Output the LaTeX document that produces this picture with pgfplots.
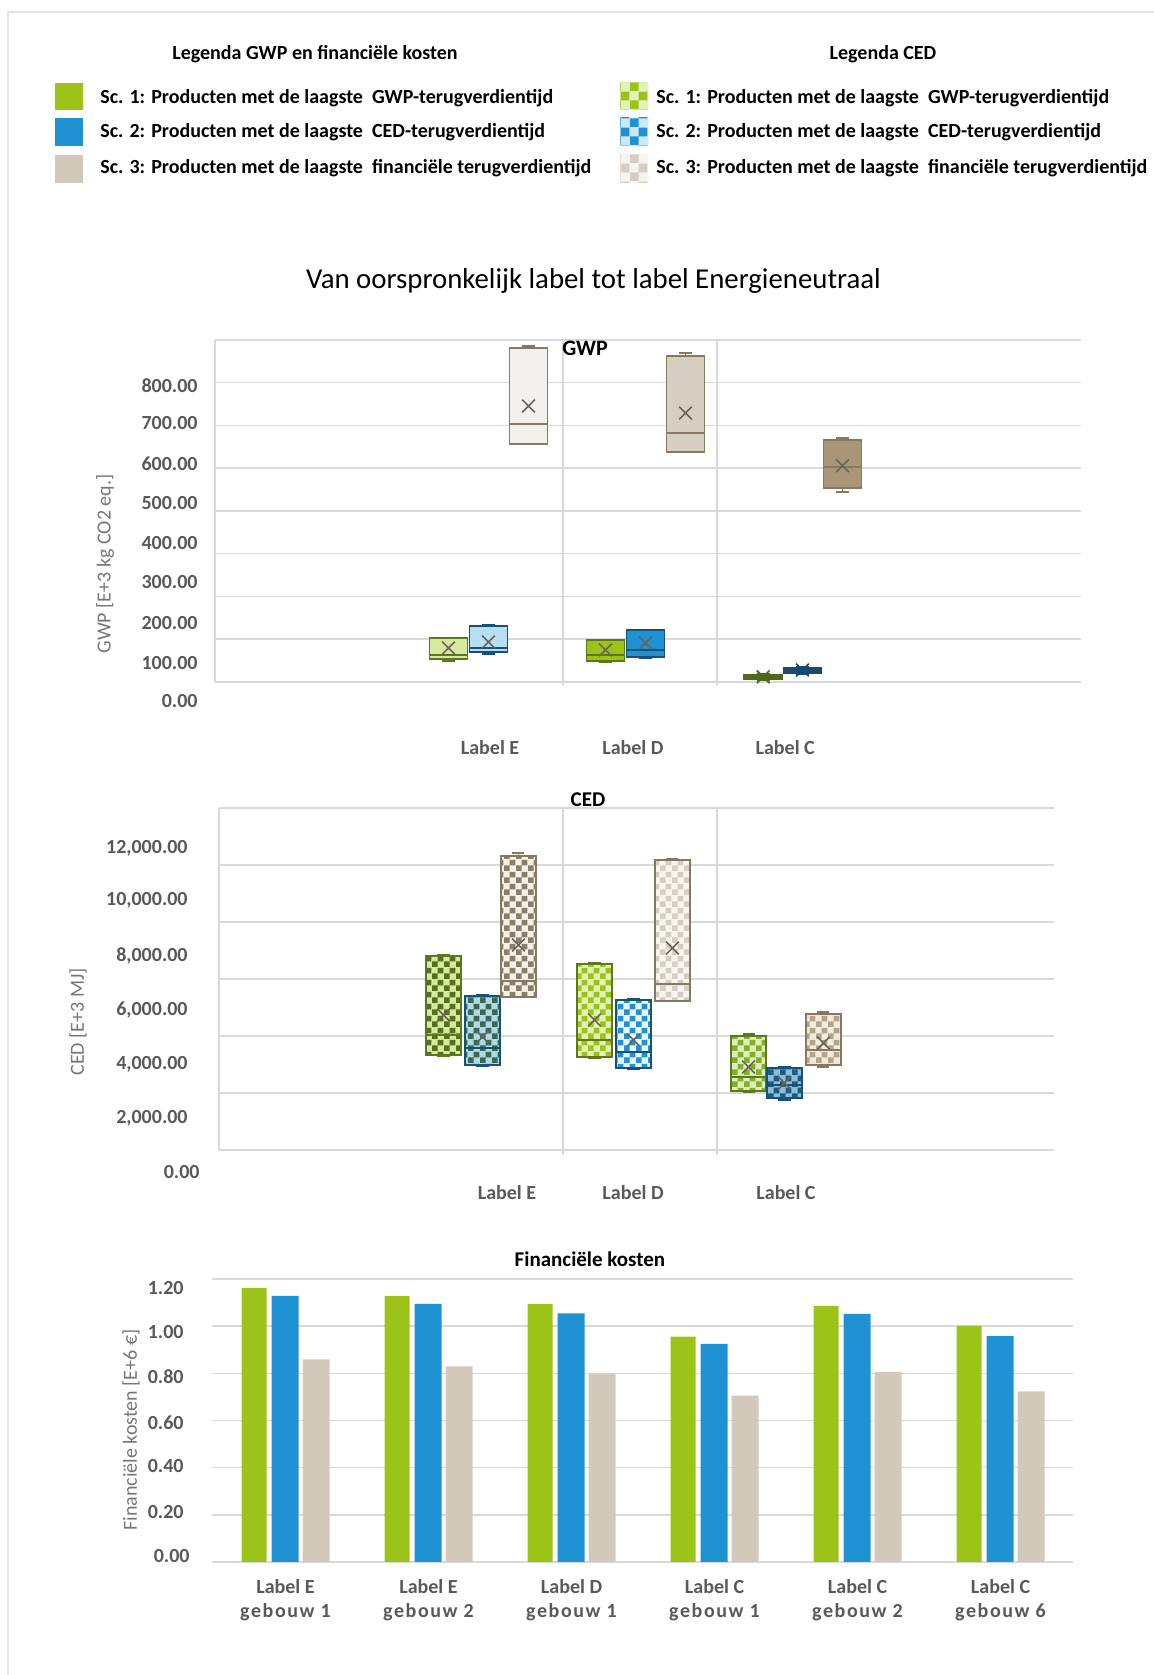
\documentclass[border=0pt]{standalone}
\usepackage{pgfplots}
\pgfplotsset{compat=1.18}
\usetikzlibrary{patterns}
\usepackage{fontspec}
\setmainfont{Carlito}
\newfontfamily\spaced[LetterSpace=8]{Carlito}

% palette
\definecolor{cGreen}{RGB}{156,195,24}
\definecolor{cBlue}{RGB}{30,146,210}
\definecolor{cBeige}{RGB}{210,201,186}
\definecolor{gridc}{RGB}{217,217,217}
\definecolor{framec}{RGB}{228,228,228}
\definecolor{tickc}{RGB}{89,89,89}
\definecolor{labc}{RGB}{118,118,118}
\definecolor{edGreen}{RGB}{92,120,28}
\definecolor{edBlue}{RGB}{20,82,120}
\definecolor{edBrown}{RGB}{135,120,95}
\definecolor{meanc}{RGB}{105,100,90}
\definecolor{gLight}{RGB}{215,232,160}
\definecolor{bLight}{RGB}{183,222,242}
\definecolor{wLight}{RGB}{243,241,237}
\definecolor{tBeige}{RGB}{214,206,192}
\definecolor{gDark}{RGB}{78,105,25}
\definecolor{bDark}{RGB}{25,75,110}
\definecolor{tDark}{RGB}{168,150,118}
% checker colours
\definecolor{kOlive}{RGB}{85,112,28}
\definecolor{kTeal}{RGB}{62,104,72}
\definecolor{kBrown}{RGB}{140,125,100}
\definecolor{kGreenC}{RGB}{130,175,40}
\definecolor{kBlueC}{RGB}{30,90,130}
\definecolor{kTaupe}{RGB}{180,165,135}
\definecolor{bgBlueE}{RGB}{172,216,240}
\definecolor{bgGreenD}{RGB}{226,240,188}
\definecolor{bgBlueD}{RGB}{236,246,252}
\definecolor{bgWhiteD}{RGB}{248,246,242}
\definecolor{bgGreenC}{RGB}{222,236,192}
\definecolor{bgBlueC}{RGB}{140,190,220}
\definecolor{bgTaupeC}{RGB}{240,236,228}
\definecolor{lgGreen}{RGB}{228,240,190}
\definecolor{lgBlue}{RGB}{205,232,248}
\definecolor{lgBeige}{RGB}{246,244,240}

% checkerboards
\pgfdeclarepatternformonly{chk}{\pgfpointorigin}{\pgfpoint{6pt}{6pt}}{\pgfpoint{6pt}{6pt}}{%
  \pgfpathrectangle{\pgfpointorigin}{\pgfpoint{3pt}{3pt}}%
  \pgfpathrectangle{\pgfpoint{3pt}{3pt}}{\pgfpoint{3pt}{3pt}}%
  \pgfusepath{fill}}
\pgfdeclarepatternformonly{chkbig}{\pgfpointorigin}{\pgfpoint{9pt}{9pt}}{\pgfpoint{9pt}{9pt}}{%
  \pgfpathrectangle{\pgfpointorigin}{\pgfpoint{4.5pt}{4.5pt}}%
  \pgfpathrectangle{\pgfpoint{4.5pt}{4.5pt}}{\pgfpoint{4.5pt}{4.5pt}}%
  \pgfusepath{fill}}

\newcommand\tickfont{\bfseries\fontsize{10}{12}\selectfont}
\newcommand\labfont{\fontsize{10}{12}\selectfont}

% one box-and-whisker: position, lower whisker, lower quartile, median,
% upper quartile, upper whisker, edge colour, fill options (half width in \bw)
\newcommand\bw{0.12}
\newcommand\bxp[8]{%
  \pgfmathsetmacro\xa{#1-\bw}\pgfmathsetmacro\xb{#1+\bw}%
  \pgfmathsetmacro\ca{#1-0.04}\pgfmathsetmacro\cb{#1+0.04}%
  \addplot[#8, draw=#7, line width=0.9pt] coordinates {(\xa,#3) (\xb,#3) (\xb,#5) (\xa,#5)} -- cycle;
  \addplot[draw=#7, line width=0.9pt] coordinates {(\xa,#4) (\xb,#4)};
  \addplot[draw=#7, line width=0.9pt, unbounded coords=jump] coordinates
    {(#1,#5) (#1,#6) (nan,nan) (\ca,#6) (\cb,#6) (nan,nan) (#1,#3) (#1,#2) (nan,nan) (\ca,#2) (\cb,#2)};
}

\pgfplotsset{
  panel/.style={
    scale only axis, anchor=south west, clip=false,
    scaled x ticks=false, scaled y ticks=false,
    axis line style={draw=none}, tick style={draw=none}, major tick length=0pt,
    major grid style={draw=gridc, line width=0.75pt},
    extra y tick labels={}, extra y tick style={grid=major},
    yticklabel style={anchor=east, inner sep=0pt, font=\tickfont, text=tickc},
    xticklabel style={inner sep=0pt, font=\tickfont, text=tickc},
  },
  meanx/.style={only marks, mark=x, mark size=4.5pt, mark options={draw=#1, line width=0.8pt}},
}

\begin{document}
\begin{tikzpicture}
\path[use as bounding box] (0,0) rectangle (577pt,837.5pt);

% ---------------- GWP ----------------
\begin{axis}[panel,
  at={(107.5pt,485.81pt)}, width=433pt, height=181.69pt,
  xmin=-0.742, xmax=4.774, ymin=-50, ymax=800,
  xtick={1.01,1.92,2.89}, xticklabels={Label E,Label D,Label C},
  xticklabel style={anchor=base, yshift=-25.5pt},
  ytick={-44.4,44.4,138,234,325,418,510,606,693},
  yticklabels={0.00,100.00,200.00,300.00,400.00,500.00,600.00,700.00,800.00},
  yticklabel style={xshift=-8.5pt},
  extra y ticks={0,100,200,300,400,500,600,700,800},
  title={GWP},
  every axis title/.style={at={(axis description cs:0.4273,0.9587)}, anchor=base,
    font=\bfseries\fontsize{11}{13}\selectfont},
  ylabel={GWP [E+3 kg CO2 eq.]},
  every axis y label/.style={at={(axis description cs:-0.127,0.3836)}, rotate=90,
    anchor=center, font=\labfont, text=labc},
]
\draw[gridc, line width=0.75pt] (axis cs:-0.742,0) -- (axis cs:-0.742,800);
\draw[gridc, line width=0.75pt] (axis cs:1.4745,-7) -- (axis cs:1.4745,800);
\draw[gridc, line width=0.75pt] (axis cs:2.4554,-7) -- (axis cs:2.4554,800);
\renewcommand\bw{0.121}
% Label E
\bxp{0.745}{49}{53.8}{63.2}{102.2}{104}{edGreen}{fill=gLight}
\bxp{1.0}{66}{70.2}{79.5}{131}{133}{edBlue}{fill=bLight}
\bxp{1.255}{556}{556}{602.8}{781.3}{786}{edBrown}{fill=wLight}
% Label D
\bxp{1.745}{46.8}{49.1}{63.2}{98.2}{99}{edGreen}{fill=cGreen}
\bxp{2.0}{56}{58.5}{74.9}{121.6}{122}{edBlue}{fill=cBlue}
\bxp{2.255}{538}{538}{582.5}{762.6}{769.6}{edBrown}{fill=tBeige}
% Label C
\bxp{2.75}{5}{7.5}{11.5}{16}{19}{gDark}{fill=gDark}
\bxp{3.0}{19}{21.5}{27}{33}{36}{bDark}{fill=bDark}
\bxp{3.255}{444.4}{453.8}{503.5}{566}{570.8}{edBrown}{fill=tDark}
% averages
\addplot[meanx=meanc] coordinates {(0.745,79.5) (1.0,93.6) (1.255,645.6) (1.745,74.9) (2.0,91.2) (2.255,629.2) (3.255,506)};
\addplot[meanx=gDark] coordinates {(2.75,12)};
\addplot[meanx=bDark] coordinates {(3.0,28)};
\end{axis}

% ---------------- CED ----------------
\begin{axis}[panel,
  at={(109.5pt,249.68pt)}, width=417.5pt, height=183.83pt,
  xmin=-0.745, xmax=4.785, ymin=-900, ymax=12000,
  xtick={1.162,1.997,3.01}, xticklabels={Label E,Label D,Label C},
  xticklabel style={anchor=base, yshift=-11.9pt},
  ytick={-772,1123,3018,4912,6807,8772,10596},
  yticklabels={0.00\kern-6pt,{2,000.00},{4,000.00},{6,000.00},{8,000.00},{10,000.00},{12,000.00}},
  yticklabel style={xshift=-15.5pt},
  extra y ticks={0,2000,4000,6000,8000,10000,12000},
  title={CED},
  every axis title/.style={at={(axis description cs:0.4419,1.004)}, anchor=base,
    font=\bfseries\fontsize{10.5}{12}\selectfont},
  ylabel={CED [E+3 MJ]},
  every axis y label/.style={at={(axis description cs:-0.1689,0.418)}, rotate=90,
    anchor=center, font=\labfont, text=labc},
]
\draw[gridc, line width=0.75pt] (axis cs:-0.745,0) -- (axis cs:-0.745,12000);
\draw[gridc, line width=0.75pt] (axis cs:1.533,-175) -- (axis cs:1.533,12000);
\draw[gridc, line width=0.75pt] (axis cs:2.553,-175) -- (axis cs:2.553,12000);
\renewcommand\bw{0.118}
% Label E
\bxp{0.742}{3298}{3333}{4035}{6807}{6842}{edGreen}{preaction={fill=gLight}, pattern=chk, pattern color=kOlive}
\bxp{1.0}{2947}{2982}{3579}{5404}{5439}{edBlue}{preaction={fill=bgBlueE}, pattern=chk, pattern color=kTeal}
\bxp{1.238}{5368}{5368}{5930}{10316}{10421}{edBrown}{preaction={fill=wLight}, pattern=chk, pattern color=kBrown}
% Label D
\bxp{1.742}{3228}{3263}{3860}{6526}{6561}{edGreen}{preaction={fill=bgGreenD}, pattern=chk, pattern color=cGreen}
\bxp{2.0}{2842}{2877}{3439}{5263}{5298}{edBlue}{preaction={fill=bgBlueD}, pattern=chk, pattern color=cBlue}
\bxp{2.258}{5228}{5228}{5825}{10175}{10210}{edBrown}{preaction={fill=bgWhiteD}, pattern=chk, pattern color=tBeige}
% Label C
\bxp{2.762}{2035}{2070}{2561}{4000}{4070}{edGreen}{preaction={fill=bgGreenC}, pattern=chk, pattern color=kGreenC}
\bxp{3.0}{1754}{1825}{2281}{2877}{2912}{edBlue}{preaction={fill=bgBlueC}, pattern=chk, pattern color=kBlueC}
\bxp{3.258}{2912}{2982}{3509}{4772}{4842}{edBrown}{preaction={fill=bgTaupeC}, pattern=chk, pattern color=kTaupe}
% averages
\addplot[meanx=meanc] coordinates {(0.742,4737) (1.0,3965) (1.238,7193) (1.742,4561) (2.0,3860) (2.258,7088) (2.762,2912) (3.0,2351) (3.258,3754)};
\end{axis}

% ---------------- Financiele kosten ----------------
\begin{axis}[panel,
  at={(106pt,56.5pt)}, width=430.5pt, height=141.5pt,
  xmin=-0.514, xmax=5.507, ymin=0, ymax=1.2,
  xtick={0,1,2,3,4,5},
  xticklabels={{Label E\\{\spaced gebouw 1}},{Label E\\{\spaced gebouw 2}},{Label D\\{\spaced gebouw 1}},
               {Label C\\{\spaced gebouw 1}},{Label C\\{\spaced gebouw 2}},{Label C\\{\spaced gebouw 6}}},
  xticklabel style={align=center, anchor=north, yshift=-8.5pt},
  ytick={0.025,0.212,0.407,0.589,0.785,0.975,1.162},
  yticklabels={0.00\kern-3pt,0.20,0.40,0.60,0.80,1.00,1.20},
  yticklabel style={xshift=-14pt},
  extra y ticks={0,0.2,0.4,0.6,0.8,1.0,1.2},
  title={Financiële kosten},
  every axis title/.style={at={(axis description cs:0.439,1.044)}, anchor=base,
    font=\bfseries\fontsize{10.5}{12}\selectfont},
  ylabel={Financiële kosten [E+6 €]},
  every axis y label/.style={at={(axis description cs:-0.0941,0.466)}, rotate=90,
    anchor=center, font=\labfont, text=labc},
]
\addplot[ybar, bar width=12.5pt, bar shift=-15.75pt, fill=cGreen, draw=none]
  coordinates {(0,1.162) (1,1.128) (2,1.094) (3,0.956) (4,1.086) (5,1.001)};
\addplot[ybar, bar width=13.5pt, bar shift=-0.25pt, fill=cBlue, draw=none]
  coordinates {(0,1.128) (1,1.094) (2,1.054) (3,0.925) (4,1.052) (5,0.958)};
\addplot[ybar, bar width=13.5pt, bar shift=15.25pt, fill=cBeige, draw=none]
  coordinates {(0,0.859) (1,0.829) (2,0.799) (3,0.706) (4,0.806) (5,0.723)};
\end{axis}

% ---------------- title, legends, frame ----------------
\begin{scope}[x=0.5pt, y=-0.5pt, yshift=837.5pt]
\draw[framec, line width=1pt] (8,1675) -- (8,12) -- (1154,12);
\node[anchor=base, font=\fontsize{14.4}{17}\selectfont] at (593.5,289)
  {Van oorspronkelijk label tot label Energieneutraal};
\node[anchor=base, font=\bfseries\fontsize{10}{12}\selectfont] at (315,59.5)
  {Legenda GWP en financiële kosten};
\node[anchor=base, font=\bfseries\fontsize{10}{12}\selectfont] at (883,59.5)
  {Legenda CED};
\fill[cGreen] (55,83) rectangle (83,110);
\fill[cBlue]  (55,118) rectangle (83,146);
\fill[cBeige] (55,155) rectangle (83,183);
\fill[lgGreen] (620,83) rectangle (648,110);
\fill[pattern=chkbig, pattern color=cGreen] (620,83) rectangle (648,110);
\fill[lgBlue] (620,118) rectangle (648,146);
\fill[pattern=chkbig, pattern color=cBlue] (620,118) rectangle (648,146);
\fill[lgBeige] (620,155) rectangle (648,183);
\fill[pattern=chkbig, pattern color=tBeige] (620,155) rectangle (648,183);
\begin{scope}[every node/.style={anchor=base west, inner sep=0pt, font=\bfseries\fontsize{10}{12}\selectfont}]
\node at (100,104) {Sc. 1: Producten met de laagste\ \ GWP-terugverdientijd};
\node at (100,138) {Sc. 2: Producten met de laagste\ \ CED-terugverdientijd};
\node at (100,174) {Sc. 3: Producten met de laagste\ \ financiële terugverdientijd};
\node at (656,104) {Sc. 1: Producten met de laagste\ \ GWP-terugverdientijd};
\node at (656,138) {Sc. 2: Producten met de laagste\ \ CED-terugverdientijd};
\node at (656,174) {Sc. 3: Producten met de laagste\ \ financiële terugverdientijd};
\end{scope}
\end{scope}
\end{tikzpicture}
\end{document}
